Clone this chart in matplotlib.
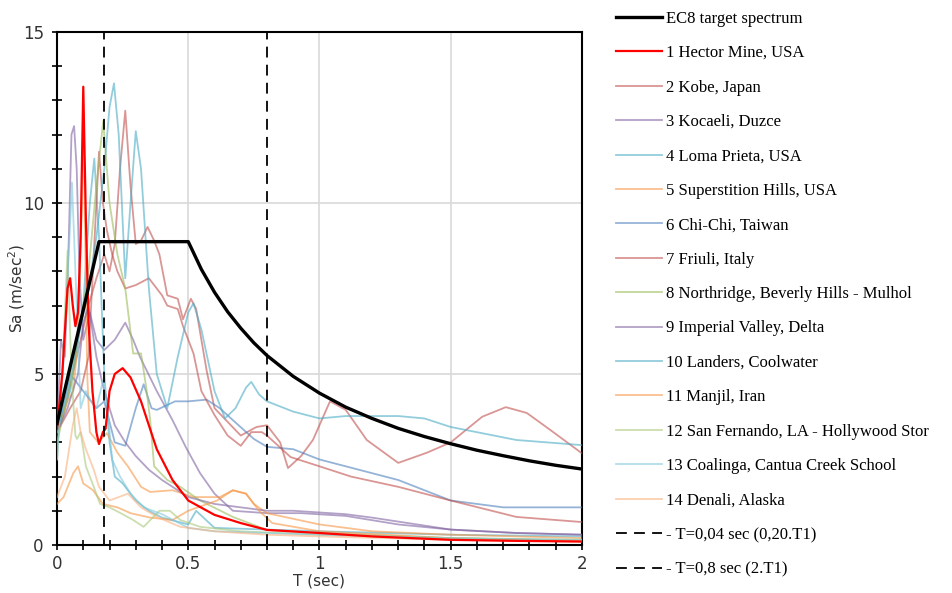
import matplotlib
matplotlib.use("Agg")
import matplotlib.pyplot as plt
from matplotlib.ticker import MultipleLocator

# EC8 target spectrum
ec8_T = [0, 0.16, 0.5, 0.55, 0.6, 0.65, 0.7, 0.75, 0.8, 0.9, 1.0, 1.1, 1.2, 1.3, 1.4,
         1.5, 1.6, 1.7, 1.8, 1.9, 2.0]
ec8_Sa = [3.55, 8.87, 8.87, 8.06, 7.39, 6.82, 6.34, 5.91, 5.54, 4.93, 4.44, 4.03, 3.70,
          3.41, 3.17, 2.96, 2.77, 2.61, 2.46, 2.33, 2.22]

# record spectra, periods in sec and Sa in m/sec2
rec1_T = [0, 0.02, 0.04, 0.05, 0.06, 0.07, 0.08, 0.09, 0.1, 0.11, 0.12, 0.135, 0.15, 0.16,
          0.175, 0.185, 0.2, 0.22, 0.25, 0.28, 0.32, 0.38, 0.44, 0.5, 0.6, 0.7, 0.8, 1.0,
          1.2, 1.5, 1.75, 2.0]
rec1_Sa = [3.4, 5.0, 7.5, 7.8, 7.0, 6.4, 6.8, 9.0, 13.4, 9.5, 6.5, 4.5, 3.3, 2.95,
           3.3, 3.4, 4.5, 5.0, 5.17, 4.9, 4.2, 2.8, 1.9, 1.3, 0.88, 0.64, 0.44, 0.35,
           0.25, 0.15, 0.12, 0.1]

rec2_T = [0, 0.03, 0.06, 0.09, 0.12, 0.15, 0.18, 0.2, 0.22, 0.24, 0.26, 0.28, 0.3, 0.32,
          0.345, 0.37, 0.39, 0.42, 0.46, 0.48, 0.51, 0.53, 0.57, 0.6, 0.65, 0.7, 0.76,
          0.8, 0.85, 0.88, 0.93, 0.975, 1.04, 1.1, 1.18, 1.3, 1.41, 1.5, 1.62, 1.71,
          1.79, 1.88, 2.0]
rec2_Sa = [3.3, 4.0, 5.0, 6.0, 7.0, 7.8, 8.5, 8.0, 8.8, 11.0, 12.7, 10.5, 8.8, 8.9,
           9.3, 8.9, 8.5, 7.3, 7.2, 6.6, 7.2, 6.9, 5.1, 4.0, 3.6, 3.2, 3.45,
           3.5, 3.0, 2.25, 2.6, 3.07, 4.2, 3.95, 3.07, 2.4, 2.7, 3.0, 3.75, 4.03,
           3.86, 3.36, 2.68]

rec3_T = [0, 0.015, 0.03, 0.045, 0.055, 0.065, 0.075, 0.085, 0.1, 0.125, 0.15, 0.18, 0.22,
          0.26, 0.29, 0.316, 0.38, 0.44, 0.49, 0.545, 0.6, 0.67, 0.8, 0.93, 1.1, 1.3,
          1.5, 1.75, 2.0]
rec3_Sa = [3.3, 6.0, 5.5, 9.0, 12.0, 12.25, 11.0, 8.0, 6.0, 6.8, 6.0, 5.7, 6.0,
           6.5, 6.0, 5.5, 4.5, 3.65, 2.87, 2.1, 1.5, 1.0, 0.93, 0.93, 0.85, 0.6,
           0.45, 0.35, 0.3]

rec4_T = [0, 0.05, 0.1, 0.125, 0.142, 0.16, 0.18, 0.2, 0.22, 0.25, 0.3, 0.35, 0.4, 0.5,
          0.53, 0.6, 0.8, 1.0, 1.5, 2.0]
rec4_Sa = [3.3, 4.5, 7.0, 10.0, 11.3, 9.0, 5.0, 3.0, 2.0, 1.8, 1.3, 1.0, 0.8, 0.6,
           1.0, 0.5, 0.45, 0.4, 0.3, 0.25]

rec5_T = [0, 0.04, 0.062, 0.08, 0.095, 0.1, 0.105, 0.115, 0.125, 0.157, 0.19, 0.23, 0.27,
          0.32, 0.355, 0.44, 0.52, 0.62, 0.67, 0.72, 0.75, 0.8, 1.0, 1.2, 1.5, 2.0]
rec5_Sa = [3.3, 4.2, 4.5, 6.0, 10.0, 12.3, 10.0, 5.0, 3.3, 3.0, 3.27, 2.7, 2.3,
           1.7, 1.55, 1.6, 1.4, 1.4, 1.6, 1.5, 1.2, 0.93, 0.6, 0.4, 0.3, 0.2]

rec6_T = [0, 0.05, 0.1, 0.15, 0.18, 0.22, 0.26, 0.3, 0.33, 0.36, 0.38, 0.45, 0.5, 0.57,
          0.62, 0.67, 0.75, 0.8, 0.9, 1.0, 1.1, 1.3, 1.5, 1.7, 2.0]
rec6_Sa = [3.3, 5.0, 4.5, 4.0, 4.2, 3.0, 2.9, 4.0, 4.7, 4.0, 3.95, 4.2, 4.2, 4.25,
           4.0, 3.65, 3.1, 2.87, 2.8, 2.5, 2.3, 1.9, 1.3, 1.1, 1.1]

rec7_T = [0, 0.05, 0.09, 0.12, 0.14, 0.16, 0.175, 0.19, 0.21, 0.23, 0.26, 0.3, 0.35,
          0.4, 0.42, 0.46, 0.48, 0.5, 0.52, 0.55, 0.6, 0.65, 0.7, 0.74, 0.78, 0.8,
          0.89, 1.0, 1.12, 1.3, 1.5, 1.75, 2.0]
rec7_Sa = [3.3, 4.0, 4.5, 5.5, 8.5, 11.5, 10.0, 9.2, 8.5, 8.0, 7.5, 7.6, 7.8,
           7.3, 7.0, 6.9, 6.4, 6.0, 5.6, 4.5, 3.8, 3.2, 2.9, 3.3, 3.3, 3.2,
           2.57, 2.3, 2.0, 1.7, 1.3, 0.82, 0.67]

rec8_T = [0, 0.03, 0.06, 0.09, 0.12, 0.15, 0.176, 0.2, 0.23, 0.26, 0.29, 0.32, 0.34,
          0.355, 0.37, 0.42, 0.47, 0.545, 0.67, 0.8, 1.0, 1.5, 2.0]
rec8_Sa = [3.0, 4.0, 5.0, 6.5, 8.0, 10.5, 12.4, 10.0, 8.5, 7.5, 5.6, 5.6, 4.6,
           3.65, 2.3, 1.9, 1.7, 1.3, 0.82, 0.44, 0.35, 0.2, 0.12]

rec9_T = [0, 0.04, 0.08, 0.1, 0.12, 0.15, 0.18, 0.22, 0.26, 0.3, 0.35, 0.4, 0.5, 0.6,
          0.7, 0.8, 0.9, 1.0, 1.1, 1.2, 1.5, 1.75, 2.0]
rec9_Sa = [3.3, 4.0, 5.0, 6.5, 7.0, 5.5, 4.5, 3.5, 3.0, 2.6, 2.2, 1.9, 1.4, 1.2,
           1.1, 1.0, 1.0, 0.95, 0.9, 0.8, 0.45, 0.35, 0.3]

rec10_T = [0, 0.04, 0.08, 0.12, 0.15, 0.18, 0.2, 0.217, 0.235, 0.26, 0.28, 0.3, 0.32,
           0.35, 0.38, 0.42, 0.46, 0.5, 0.52, 0.55, 0.6, 0.64, 0.68, 0.72, 0.74, 0.77,
           0.8, 0.9, 1.0, 1.1, 1.3, 1.4, 1.5, 1.75, 2.0]
rec10_Sa = [3.3, 4.5, 6.0, 7.5, 9.0, 11.0, 12.8, 13.5, 12.0, 7.8, 10.0, 12.1, 11.0,
            7.5, 5.0, 4.0, 5.5, 6.8, 7.07, 6.3, 4.5, 3.7, 4.0, 4.6, 4.77, 4.4,
            4.2, 3.9, 3.7, 3.77, 3.77, 3.7, 3.45, 3.07, 2.92]

rec11_T = [0, 0.025, 0.062, 0.08, 0.1, 0.137, 0.175, 0.23, 0.28, 0.355, 0.44, 0.5, 0.61,
           0.67, 0.72, 0.77, 0.82, 1.0, 1.5, 2.0]
rec11_Sa = [1.2, 1.4, 2.1, 2.3, 1.8, 1.6, 1.2, 1.1, 0.93, 0.8, 0.73, 1.0, 1.3,
            1.6, 1.5, 1.0, 0.64, 0.4, 0.2, 0.12]

rec12_T = [0, 0.02, 0.04, 0.055, 0.07, 0.076, 0.09, 0.11, 0.14, 0.164, 0.2, 0.25, 0.29,
           0.33, 0.39, 0.43, 0.47, 0.545, 0.7, 1.0, 1.5, 2.0]
rec12_Sa = [2.5, 5.0, 8.6, 5.0, 3.2, 3.1, 3.3, 2.3, 1.7, 1.2, 1.1, 0.9, 0.73,
            0.53, 1.0, 1.0, 0.73, 0.53, 0.4, 0.3, 0.2, 0.15]

rec13_T = [0, 0.03, 0.057, 0.075, 0.09, 0.11, 0.13, 0.15, 0.175, 0.19, 0.21, 0.24, 0.28,
           0.33, 0.4, 0.5, 0.6, 0.8, 1.0, 1.5, 2.0]
rec13_Sa = [2.5, 6.0, 10.6, 7.0, 4.0, 4.5, 4.2, 4.0, 4.8, 4.2, 2.5, 2.0, 1.5,
            1.1, 0.9, 0.5, 0.4, 0.35, 0.3, 0.2, 0.15]

rec14_T = [0, 0.03, 0.06, 0.075, 0.09, 0.11, 0.14, 0.16, 0.2, 0.27, 0.32, 0.38, 0.47,
           0.6, 0.8, 1.0, 1.5, 2.0]
rec14_Sa = [1.4, 2.0, 3.5, 4.0, 3.3, 2.8, 2.2, 1.7, 1.3, 1.5, 1.1, 0.82, 0.53,
            0.4, 0.3, 0.25, 0.15, 0.1]

records = [
    ("1 Hector Mine, USA", rec1_T, rec1_Sa, "#ff0000"),
    ("2 Kobe, Japan", rec2_T, rec2_Sa, "#c0504d"),
    ("3 Kocaeli, Duzce", rec3_T, rec3_Sa, "#8064a2"),
    ("4 Loma Prieta, USA", rec4_T, rec4_Sa, "#4bacc6"),
    ("5 Superstition Hills, USA", rec5_T, rec5_Sa, "#f79646"),
    ("6 Chi-Chi, Taiwan", rec6_T, rec6_Sa, "#4f81bd"),
    ("7 Friuli, Italy", rec7_T, rec7_Sa, "#c0504d"),
    ("8 Northridge, Beverly Hills - Mulhol", rec8_T, rec8_Sa, "#9bbb59"),
    ("9 Imperial Valley, Delta", rec9_T, rec9_Sa, "#8064a2"),
    ("10 Landers, Coolwater", rec10_T, rec10_Sa, "#4bacc6"),
    ("11 Manjil, Iran", rec11_T, rec11_Sa, "#f79646"),
    ("12 San Fernando, LA - Hollywood Stor", rec12_T, rec12_Sa, "#a9c97a"),
    ("13 Coalinga, Cantua Creek School", rec13_T, rec13_Sa, "#7ec8dc"),
    ("14 Denali, Alaska", rec14_T, rec14_Sa, "#f9b07e"),
]

T1_short = 0.18
T1_long = 0.8

fig = plt.figure(figsize=(9.52, 5.93), dpi=100)
ax = fig.add_axes([0.0599, 0.081, 0.5514, 0.865])

handles = []
h, = ax.plot(ec8_T, ec8_Sa, color="black", lw=2.4, zorder=10, label="EC8 target spectrum")
handles.append(h)
for name, T, Sa, c in records:
    if name.startswith("1 "):
        h, = ax.plot(T, Sa, color=c, lw=1.6, zorder=8, label=name)
    else:
        h, = ax.plot(T, Sa, color=c, lw=1.3, alpha=0.6, zorder=5, label=name)
    handles.append(h)

h, = ax.plot([T1_short, T1_short], [0, 15], color="black", lw=1.3, ls=(0, (6, 4)),
             zorder=11, label="- T=0,04 sec (0,20.T1)")
handles.append(h)
h, = ax.plot([T1_long, T1_long], [0, 15], color="black", lw=1.3, ls=(0, (6, 4)),
             zorder=11, label="- T=0,8 sec (2.T1)")
handles.append(h)

ax.set_xlim(0, 2)
ax.set_ylim(0, 15)
ax.xaxis.set_major_locator(MultipleLocator(0.5))
ax.xaxis.set_minor_locator(MultipleLocator(0.1))
ax.yaxis.set_major_locator(MultipleLocator(5))
ax.yaxis.set_minor_locator(MultipleLocator(1))
ax.set_xticks([0, 0.5, 1, 1.5, 2])
ax.set_xticklabels(["0", "0.5", "1", "1.5", "2"])
ax.grid(True, which="major", color="#d9d9d9", lw=1.2)
ax.set_axisbelow(True)
ax.tick_params(which="both", direction="inout", length=7, width=1.2,
               labelsize=12, labelcolor="#333333")
ax.tick_params(axis="y", pad=6)
for s in ax.spines.values():
    s.set_linewidth(1.5)
    s.set_color("black")

ax.set_xlabel("T (sec)", fontsize=11, color="#333333")
ax.xaxis.set_label_coords(0.5, -0.055)
ax.set_ylabel("Sa (m/sec$^2$)", fontsize=11, color="#333333")
ax.yaxis.set_label_coords(-0.058, 0.5)

fig.legend(handles=handles, loc="upper left", bbox_to_anchor=(0.638, 0.996),
           frameon=False, prop={"family": "Liberation Serif", "size": 12},
           handlelength=2.8, handletextpad=0.2, labelspacing=1.105, borderpad=0)

fig.savefig("out.png", dpi=100)
